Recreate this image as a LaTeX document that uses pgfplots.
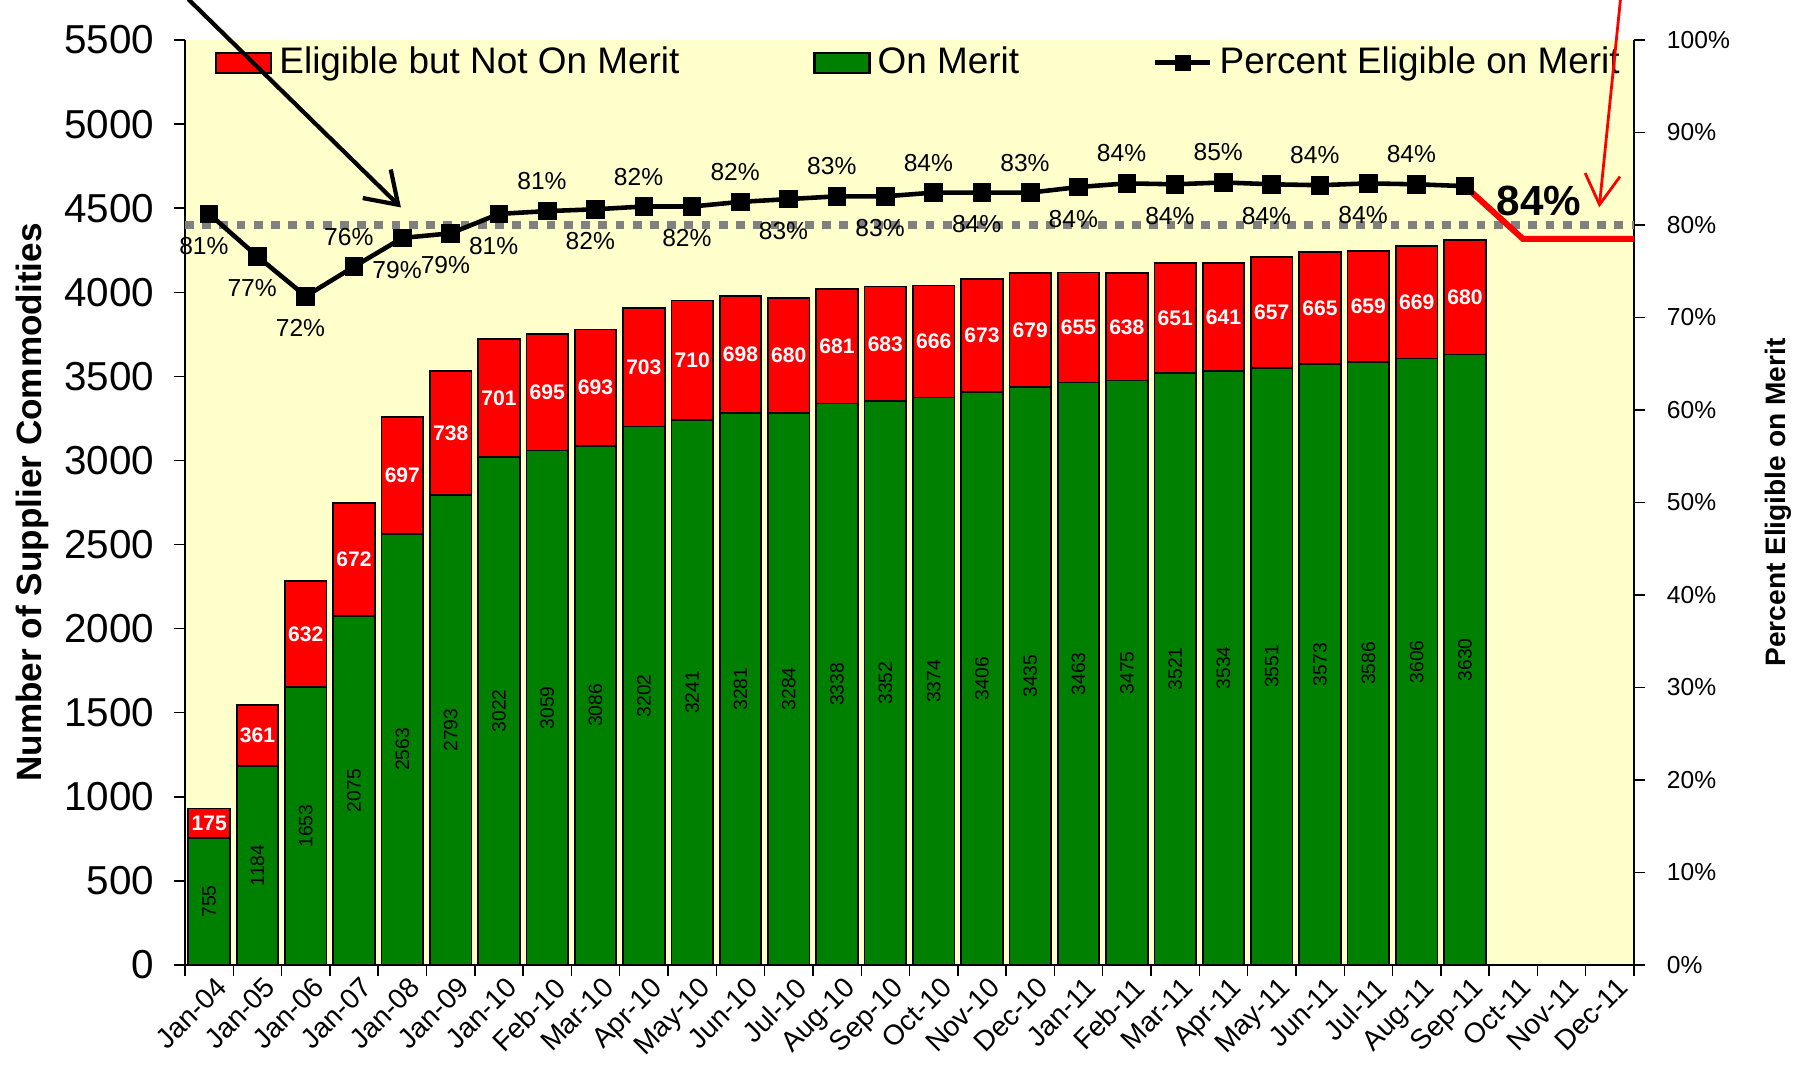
\documentclass[border=0pt]{standalone}
\usepackage{fontspec}
\setmainfont{Liberation Sans}
\usepackage{pgfplots}
\usepackage{pgfplotstable}
\pgfplotsset{compat=1.18}
\usetikzlibrary{arrows.meta}
\pgfplotsset{/pgf/number format/assume math mode=true, /pgf/number format/1000 sep={}}

\definecolor{bgyellow}{RGB}{255,255,204}
\definecolor{barred}{RGB}{255,0,0}
\definecolor{bargreen}{RGB}{0,128,0}
\definecolor{dotgray}{RGB}{128,128,128}

\pgfplotstableread{
idx green red pct
0 755 175 81.2
1 1184 361 76.6
2 1653 632 72.3
3 2075 672 75.5
4 2563 697 78.6
5 2793 738 79.1
6 3022 701 81.2
7 3059 695 81.5
8 3086 693 81.7
9 3202 703 82.0
10 3241 710 82.0
11 3281 698 82.5
12 3284 680 82.8
13 3338 681 83.1
14 3352 683 83.1
15 3374 666 83.5
16 3406 673 83.5
17 3435 679 83.5
18 3463 655 84.1
19 3475 638 84.5
20 3521 651 84.4
21 3534 641 84.6
22 3551 657 84.4
23 3573 665 84.3
24 3586 659 84.5
25 3606 669 84.4
26 3630 680 84.2
}\datatable

\pgfplotstableread{
x y lab
3 75.5 76
7 81.5 81
9 82.0 82
11 82.5 82
13 83.1 83
15 83.5 84
17 83.5 83
19 84.5 84
21 84.6 85
23 84.3 84
25 84.4 84
}\abovetable

\pgfplotstableread{
x y lab
0 81.2 81
1 76.6 77
2 72.3 72
4 78.6 79
5 79.1 79
6 81.2 81
8 81.7 82
10 82.0 82
12 82.8 83
14 83.1 83
16 83.5 84
18 84.1 84
20 84.4 84
22 84.4 84
24 84.5 84
}\belowtable

\begin{document}
\begin{tikzpicture}
\path[use as bounding box] (-18.5mm,-10.9mm) rectangle (162.5mm,96.5mm);
\begin{axis}[
  at={(0,0)}, anchor=south west,
  scale only axis, width=144.9mm, height=92.5mm,
  ybar stacked, bar width=0.86,
  xmin=-0.5, xmax=29.5, ymin=0, ymax=5500,
  ytick={0,500,...,5500},
  xtick={-0.5,0.5,...,29.5},
  x tick label as interval,
  xticklabels={Jan-04,Jan-05,Jan-06,Jan-07,Jan-08,Jan-09,Jan-10,Feb-10,Mar-10,Apr-10,May-10,Jun-10,Jul-10,Aug-10,Sep-10,Oct-10,Nov-10,Dec-10,Jan-11,Feb-11,Mar-11,Apr-11,May-11,Jun-11,Jul-11,Aug-11,Sep-11,Oct-11,Nov-11,Dec-11},
  xticklabel style={rotate=45, anchor=north east, font=\fontsize{8}{9}\selectfont, inner sep=1pt, xshift=0.8mm},
  yticklabel style={font=\fontsize{11.5}{13}\selectfont, xshift=-0.8mm},
  axis x line*=bottom, axis y line*=left,
  axis line style={-, black},
  tick align=outside, major tick length=3pt,
  tick style={black, thin},
  axis background/.style={fill=bgyellow},
  ylabel={Number of Supplier Commodities},
  ylabel style={at={(axis description cs:-0.1056,0.5)}, anchor=center, font=\bfseries\fontsize{10}{12}\selectfont},
  legend columns=3,
  legend cell align=left,
  legend style={draw=none, fill=none, at={(0.5,1)}, anchor=north, xshift=1.15mm, yshift=0.8mm,
    font=\fontsize{10.5}{12}\selectfont,
    /tikz/every even column/.append style={column sep=12.7mm}},
  clip=false,
]
\addlegendimage{legend image code/.code={\draw[fill=barred, draw=black, line width=0.6pt] (0cm,-0.1cm) rectangle (0.55cm,0.1cm);}}
\addlegendentry{Eligible but Not On Merit}
\addlegendimage{legend image code/.code={\draw[fill=bargreen, draw=black, line width=0.6pt] (0cm,-0.1cm) rectangle (0.55cm,0.1cm);}}
\addlegendentry{On Merit}
\addlegendimage{legend image code/.code={\draw[black, line width=1.3pt] (0cm,0cm) -- (0.55cm,0cm); \fill[black] (0.2cm,-0.075cm) rectangle (0.35cm,0.075cm);}}
\addlegendentry{Percent Eligible on Merit}

\addplot[forget plot, fill=bargreen, draw=black, line width=0.5pt,
  nodes near coords, point meta=explicit,
  every node near coord/.append style={rotate=90, anchor=center, font=\fontsize{5.5}{6}\selectfont, text=black}
] table[x=idx, y=green, meta=green] {\datatable};
\addplot[forget plot, fill=barred, draw=black, line width=0.5pt,
  nodes near coords, point meta=explicit,
  every node near coord/.append style={anchor=center, font=\bfseries\fontsize{6}{7}\selectfont, text=white}
] table[x=idx, y=red, meta=red] {\datatable};
\end{axis}

\begin{axis}[
  at={(0,0)}, anchor=south west,
  scale only axis, width=144.9mm, height=92.5mm,
  xmin=-0.5, xmax=29.5, ymin=0, ymax=100,
  axis x line=none, axis y line*=right,
  axis line style={-, black},
  ytick={0,10,...,100},
  yticklabel={\pgfmathprintnumber{\tick}\%},
  yticklabel style={font=\fontsize{7}{8}\selectfont, xshift=1mm},
  tick align=outside, major tick length=3pt,
  tick style={black, thin},
  ylabel={Percent Eligible on Merit},
  ylabel style={at={(axis description cs:1.0994,0.5)}, anchor=center, font=\bfseries\fontsize{8}{10}\selectfont},
  clip=false,
]
\addplot[dotgray, line width=2pt, dash pattern=on 2.5pt off 2.4pt] coordinates {(-0.5,80) (29.5,80)};
\addplot[red, line width=1.7pt] coordinates {(26,84.2) (27.2,78.5) (29.5,78.5)};
\addplot[black, line width=1.3pt, mark=square*, mark size=2pt] table[x=idx, y=pct] {\datatable};
\addplot[draw=none, nodes near coords={\pgfmathprintnumber{\pgfplotspointmeta}\%}, point meta=explicit,
  nodes near coords style={anchor=south, yshift=2.5pt, xshift=-1.5pt, font=\fontsize{7}{8}\selectfont, text=black}]
  table[x=x, y=y, meta=lab] {\abovetable};
\addplot[draw=none, nodes near coords={\pgfmathprintnumber{\pgfplotspointmeta}\%}, point meta=explicit,
  nodes near coords style={anchor=north, yshift=-3pt, xshift=-1.5pt, font=\fontsize{7}{8}\selectfont, text=black}]
  table[x=x, y=y, meta=lab] {\belowtable};
\node[anchor=west, font=\bfseries\fontsize{12}{14}\selectfont] at (axis cs:26.4,82.6) {84\%};
\draw[black, line width=1.2pt, -{Straight Barb[length=3mm, width=4mm]}] (axis cs:-0.43,104.4) -- (axis cs:3.97,81.9);
\draw[red, line width=0.8pt, -{Straight Barb[length=3mm, width=3.5mm]}] (axis cs:29.22,104.4) -- (axis cs:28.78,81.9);
\end{axis}
\end{tikzpicture}
\end{document}
